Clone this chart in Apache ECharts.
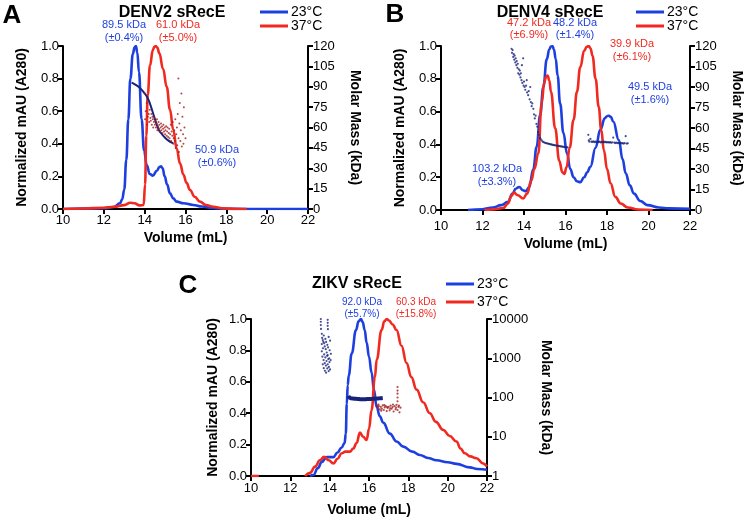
<!DOCTYPE html>
<html><head><meta charset="utf-8">
<script src="https://cdn.jsdelivr.net/npm/echarts@6/dist/echarts.min.js"></script>
<style>html,body{margin:0;padding:0;background:#fff}#c{width:745px;height:520px}</style>
</head><body><div id="c"></div><script>
// ---------- DATA ----------
const volumeTicks = [10, 12, 14, 16, 18, 20, 22];
const legendNames = ['23°C', '37°C'];

// Panel A: DENV2 sRecE  [volume mL, normalized A280]
const denv2_23 = [[10,0],[11,0.002],[12,0.005],[12.5,0.012],[12.79,0.035],[12.9,0.06],[13.0,0.12],[13.1,0.3],[13.2,0.55],[13.3,0.8],[13.42,0.95],[13.5,0.99],[13.57,1.0],[13.64,0.96],[13.72,0.84],[13.85,0.55],[13.97,0.36],[14.1,0.27],[14.25,0.215],[14.4,0.205],[14.6,0.235],[14.72,0.258],[14.8,0.262],[14.88,0.25],[14.98,0.2],[15.1,0.15],[15.24,0.096],[15.4,0.065],[15.57,0.045],[15.9,0.035],[16.38,0.025],[16.8,0.015],[17.3,0.006],[18,0.001],[19,0],[22,0]];
const denv2_37 = [[10,0],[11,0.003],[12,0.008],[12.5,0.014],[13.0,0.024],[13.3,0.038],[13.5,0.035],[13.75,0.022],[13.95,0.025],[14.02,0.15],[14.08,0.45],[14.15,0.7],[14.26,0.88],[14.4,0.975],[14.47,0.995],[14.54,1.0],[14.62,0.99],[14.72,0.955],[14.9,0.86],[15.08,0.75],[15.24,0.61],[15.4,0.485],[15.57,0.37],[15.73,0.28],[15.9,0.21],[16.05,0.16],[16.22,0.117],[16.45,0.075],[16.7,0.045],[17.0,0.025],[17.36,0.014],[17.8,0.005],[18.5,0],[19,0]];
// molar mass (kDa)
const denv2_mm23 = [[13.36,93],[13.5,92],[13.7,90],[13.9,87],[14.1,83],[14.25,78],[14.4,71],[14.55,64],[14.7,58],[14.85,55],[15.0,52.5],[15.15,50.5],[15.3,49],[15.4,48.5]];
const denv2_mm37 = [[14.0,85],[14.02,66],[14.05,72],[14.1,78],[14.12,62],[14.15,68],[14.2,70],[14.22,64],[14.25,73],[14.28,67],[14.3,65],[14.33,70],[14.35,62],[14.38,68],[14.4,66],[14.42,60],[14.45,64],[14.48,67],[14.5,62],[14.52,65],[14.55,60],[14.58,63],[14.6,66],[14.62,58],[14.65,61],[14.68,64],[14.7,59],[14.72,62],[14.75,57],[14.78,60],[14.8,63],[14.82,58],[14.85,61],[14.88,56],[14.9,59],[14.92,62],[14.95,57],[14.98,60],[15.0,55],[15.02,58],[15.05,61],[15.08,54],[15.1,57],[15.12,60],[15.15,53],[15.18,56],[15.2,59],[15.22,52],[15.25,55],[15.28,62],[15.3,50],[15.32,57],[15.35,54],[15.38,64],[15.4,48],[15.42,52],[15.45,58],[15.48,50],[15.5,66],[15.52,45],[15.55,55],[15.58,60],[15.6,47],[15.62,70],[15.65,96],[15.66,52],[15.68,42],[15.7,63],[15.72,78],[15.75,50],[15.77,58],[15.8,85],[15.82,46],[15.85,68],[15.88,55],[15.9,48],[15.92,75],[15.95,60],[16.0,52]];

// Panel B: DENV4 sRecE
const denv4_23 = [[11.3,0],[12.0,0.005],[12.5,0.015],[12.9,0.03],[13.23,0.05],[13.45,0.1],[13.6,0.13],[13.77,0.14],[13.95,0.12],[14.09,0.115],[14.25,0.14],[14.45,0.25],[14.61,0.386],[14.78,0.58],[14.93,0.75],[15.1,0.92],[15.22,0.98],[15.3,0.997],[15.37,1.0],[15.44,0.98],[15.53,0.92],[15.62,0.82],[15.74,0.65],[15.9,0.47],[16.07,0.345],[16.23,0.25],[16.39,0.2],[16.55,0.175],[16.71,0.17],[16.9,0.2],[17.05,0.23],[17.2,0.264],[17.45,0.38],[17.68,0.49],[17.9,0.56],[18.0,0.572],[18.09,0.575],[18.18,0.568],[18.3,0.54],[18.57,0.427],[18.75,0.31],[18.9,0.224],[19.1,0.15],[19.3,0.1],[19.6,0.055],[19.95,0.03],[20.5,0.015],[21.0,0.01],[22,0.008]];
const denv4_37 = [[12.1,0],[12.5,0.003],[13.0,0.012],[13.23,0.04],[13.38,0.085],[13.52,0.106],[13.7,0.09],[13.96,0.07],[14.15,0.1],[14.35,0.18],[14.5,0.25],[14.69,0.345],[14.85,0.65],[14.98,0.78],[15.06,0.81],[15.14,0.82],[15.22,0.79],[15.3,0.72],[15.5,0.5],[15.7,0.3],[15.85,0.23],[15.94,0.22],[16.05,0.26],[16.2,0.38],[16.39,0.55],[16.55,0.72],[16.71,0.87],[16.9,0.97],[17.02,0.995],[17.12,1.0],[17.21,0.985],[17.3,0.94],[17.45,0.8],[17.6,0.63],[17.72,0.49],[17.85,0.366],[18.0,0.25],[18.17,0.163],[18.4,0.08],[18.66,0.04],[19.0,0.015],[19.5,0.003],[20.2,0]];
const denv4_mm23 = [[13.4,118],[13.42,115],[13.45,117],[13.48,112],[13.5,114],[13.53,110],[13.55,113],[13.58,108],[13.6,111],[13.63,106],[13.65,109],[13.68,104],[13.7,107],[13.72,100],[13.75,103],[13.78,99],[13.8,102],[13.83,97],[13.85,100],[13.88,95],[13.9,106],[13.92,93],[13.96,111],[13.98,91],[14.0,94],[14.03,90],[14.06,88],[14.1,91],[14.13,95],[14.15,86],[14.2,84],[14.23,87],[14.27,81],[14.3,90],[14.33,79],[14.37,76],[14.4,78],[14.45,74],[14.48,70],[14.52,67],[14.56,69],[14.6,63],[14.64,61],[14.68,57],[14.72,55],[14.76,53],[14.8,52],[14.85,51],[14.9,50],[14.95,49.6],[15.0,49.2],[15.05,49],[15.1,48.8],[15.15,48.6],[15.2,48.4],[15.25,48.2],[15.3,48],[15.35,47.8],[15.4,47.6],[15.45,47.4],[15.5,47.3],[15.55,47.2],[15.6,47],[15.65,46.9],[15.7,46.8],[15.75,46.6],[15.8,46.5],[15.85,46.3],[15.9,46.2],[15.95,46.1],[16.0,46],[16.05,45.9],[16.1,45.8]];
const denv4_mm23b = [[17.1,55],[17.12,51],[17.15,50],[17.2,52],[17.25,50],[17.3,49.8],[17.35,50.2],[17.4,49.6],[17.45,50],[17.5,49.5],[17.55,50.1],[17.6,49.7],[17.65,50],[17.7,49.4],[17.75,49.9],[17.8,49.6],[17.85,50],[17.9,49.5],[17.95,49.8],[18.0,49.4],[18.05,49.7],[18.1,49.3],[18.15,49.6],[18.2,49.2],[18.25,49.5],[18.3,53],[18.35,49.3],[18.4,49],[18.45,49.4],[18.5,48.9],[18.55,49.2],[18.6,48.8],[18.65,49.1],[18.7,48.7],[18.75,49],[18.8,48.6],[18.85,48.9],[18.9,54],[18.95,48.6],[19.0,48.8]];

// Panel C: ZIKV sRecE
const zikv_23 = [[13.0,0],[13.17,0.006],[13.4,0.05],[13.6,0.09],[13.85,0.12],[14.0,0.12],[14.19,0.12],[14.4,0.15],[14.6,0.18],[14.76,0.21],[14.82,0.27],[14.87,0.46],[14.92,0.58],[14.97,0.64],[15.12,0.78],[15.34,0.93],[15.47,0.985],[15.59,1.0],[15.68,0.98],[15.78,0.93],[15.88,0.85],[16.0,0.76],[16.13,0.66],[16.25,0.55],[16.39,0.44],[16.55,0.38],[16.72,0.34],[17.06,0.27],[17.4,0.22],[17.74,0.187],[18.2,0.155],[18.58,0.134],[19.0,0.115],[19.43,0.1],[20.0,0.088],[20.45,0.077],[21.12,0.055],[21.5,0.045],[22,0.04]];
const zikv_37 = [[10,0],[10.4,0],[10.5,'-'],[12.75,0],[13.0,0.02],[13.26,0.06],[13.5,0.1],[13.72,0.123],[13.95,0.1],[14.19,0.08],[14.4,0.11],[14.61,0.145],[14.8,0.155],[15.03,0.155],[15.2,0.175],[15.37,0.21],[15.54,0.276],[15.7,0.25],[15.88,0.23],[16.0,0.3],[16.13,0.42],[16.3,0.63],[16.39,0.74],[16.64,0.93],[16.78,0.985],[16.9,1.0],[17.02,0.99],[17.2,0.965],[17.4,0.93],[17.65,0.83],[17.91,0.72],[18.15,0.63],[18.42,0.55],[18.75,0.47],[19.09,0.4],[19.4,0.345],[19.77,0.294],[20.1,0.255],[20.45,0.22],[20.65,0.175],[20.87,0.145],[21.15,0.125],[21.46,0.113],[21.8,0.08],[22,0.06]];
const zikv_mm23 = [[14.95,110],[15.0,100],[15.05,97],[15.1,95],[15.2,94],[15.3,93],[15.4,92],[15.5,91],[15.6,90],[15.7,90],[15.8,90.5],[15.9,91],[16.0,91.5],[16.1,92],[16.2,92.5],[16.3,93],[16.4,94],[16.5,95],[16.6,96],[16.7,97]];
const zikv_mm23agg = [[13.55,10000],[13.55,8500],[13.55,7000],[13.56,5600],[13.9,9500],[13.9,8000],[13.9,6700],[13.91,5500],[13.6,4200],[13.62,3300],[13.65,2900],[13.7,3800],[13.72,2400],[13.75,2000],[13.78,3100],[13.8,1700],[13.82,2600],[13.85,1400],[13.88,2200],[13.9,1200],[13.92,1900],[13.95,3500],[13.98,1000],[14.0,1600],[14.02,2800],[14.05,900],[14.06,1300],[13.6,1500],[13.63,1100],[13.66,1800],[13.69,900],[13.72,1250],[13.75,750],[13.78,1050],[13.81,650],[13.84,850],[13.87,1150],[13.9,700],[13.93,950],[13.96,600],[13.99,800],[14.02,520],[13.65,700],[13.7,560],[13.76,480],[13.82,430],[13.88,550],[13.95,470],[13.6,2300],[13.68,2600]];
const zikv_mm37 = [[16.4,62],[16.45,55],[16.5,60],[16.55,50],[16.6,58],[16.65,52],[16.7,63],[16.75,48],[16.8,56],[16.85,60],[16.9,45],[16.95,54],[17.0,58],[17.05,47],[17.1,62],[17.15,52],[17.2,57],[17.25,44],[17.3,60],[17.35,50],[17.4,65],[17.45,48],[17.5,58],[17.55,42],[17.6,55],[16.48,66],[16.62,46],[16.78,64],[16.92,57],[17.08,53],[17.22,66],[17.38,55],[17.52,62],[17.45,80],[17.45,100],[17.45,125],[17.45,150],[17.45,185]];

// ---------- CHART ----------
const FONT = 'Arial, "Liberation Sans", Helvetica, sans-serif';
const BLUE = '#1d3fe0', RED = '#f02a20', NAVY = '#17237a', DRED = '#a01c1c';
const chart = echarts.init(document.getElementById('c'), null, {renderer: 'canvas'});

const grids = [
  {left: 63, right: 437, top: 46, bottom: 311},
  {left: 441, right: 55, top: 46, bottom: 310},
  {left: 251, right: 258, top: 319, bottom: 44}
];
const axLine = {show: true, onZero: false, lineStyle: {color: '#000', width: 2}};
const axTick = {show: true, length: 5, inside: false, lineStyle: {color: '#000', width: 2}};
function xAx(g, margin, gap) {
  return {type: 'value', gridIndex: g, min: 10, max: 22, interval: 2,
    axisLine: axLine, axisTick: axTick, splitLine: {show: false},
    axisLabel: {color: '#000', fontSize: 13, fontFamily: FONT, margin: margin},
    name: 'Volume (mL)', nameLocation: 'middle', nameGap: gap,
    nameTextStyle: {color: '#000', fontSize: 14, fontWeight: 'bold', fontFamily: FONT}};
}
function yLeft(g, gap) {
  return {type: 'value', gridIndex: g, min: 0, max: 1, interval: 0.2, position: 'left',
    axisLine: axLine, axisTick: axTick, splitLine: {show: false},
    axisLabel: {color: '#000', fontSize: 13, fontFamily: FONT, margin: 4, formatter: v => v.toFixed(1)},
    name: 'Normalized mAU (A280)', nameLocation: 'middle', nameGap: gap, nameRotate: 90,
    nameTextStyle: {color: '#000', fontSize: 14, fontWeight: 'bold', fontFamily: FONT}};
}
function yRight(g, gap) {
  return {type: 'value', gridIndex: g, min: 0, max: 120, interval: 15, position: 'right',
    axisLine: axLine, axisTick: axTick, splitLine: {show: false},
    axisLabel: {color: '#000', fontSize: 13, fontFamily: FONT, margin: 5},
    name: 'Molar Mass (kDa)', nameLocation: 'middle', nameGap: gap, nameRotate: -90,
    nameTextStyle: {color: '#000', fontSize: 14, fontWeight: 'bold', fontFamily: FONT}};
}
const yRightLog = {type: 'log', logBase: 10, gridIndex: 2, min: 1, max: 10000, position: 'right',
  axisLine: axLine, axisTick: axTick, splitLine: {show: false}, minorTick: {show: false},
  axisLabel: {color: '#000', fontSize: 13, fontFamily: FONT, margin: 5, formatter: v => String(Math.round(v))},
  name: 'Molar Mass (kDa)', nameLocation: 'middle', nameGap: 52, nameRotate: -90,
  nameTextStyle: {color: '#000', fontSize: 14, fontWeight: 'bold', fontFamily: FONT}};

function line(name, data, color, xi, yi) {
  return {type: 'line', name: name, data: data, xAxisIndex: xi, yAxisIndex: yi,
    showSymbol: false, smooth: 0.45, smoothMonotone: 'x', connectNulls: false,
    lineStyle: {color: color, width: 2.6}, itemStyle: {color: color}, z: 2};
}
function dots(data, color, xi, yi, size) {
  return {type: 'scatter', name: 'mm', data: data, xAxisIndex: xi, yAxisIndex: yi,
    symbolSize: size || 2.2, itemStyle: {color: color}, z: 4, silent: true};
}
function mmLine(data, color, xi, yi, w) {
  return {type: 'line', name: 'mmline', data: data, xAxisIndex: xi, yAxisIndex: yi,
    showSymbol: false, smooth: 0.4, lineStyle: {color: color, width: w}, z: 4, silent: true};
}
function legend(left, top, gap, fs) {
  return {orient: 'vertical', left: left, top: top, itemWidth: 28, itemHeight: 3, itemGap: gap,
    icon: 'rect', selectedMode: false, data: legendNames, padding: 0,
    textStyle: {color: '#000', fontSize: fs, fontFamily: FONT, lineHeight: 12, padding: [0, 0, 0, -2]}};
}
function txt(x, y, s, color, fs, bold) {
  return {type: 'text', x: x, y: y, style: {text: s, fill: color, font: (bold ? 'bold ' : '') + fs + 'px ' + FONT,
    textAlign: 'center', textVerticalAlign: 'middle'}};
}
const titleStyle = {fontSize: 16, fontWeight: 'bold', fontFamily: FONT, color: '#000'};

const option = {
  animation: false,
  backgroundColor: '#fff',
  grid: grids,
  title: [
    {text: 'DENV2 sRecE', left: 172, top: 5, padding: 0, textAlign: 'center', textStyle: titleStyle},
    {text: 'DENV4 sRecE', left: 550, top: 5, padding: 0, textAlign: 'center', textStyle: titleStyle},
    {text: 'ZIKV sRecE', left: 357, top: 276, padding: 0, textAlign: 'center', textStyle: titleStyle}
  ],
  legend: [legend(260, 5, 0, 14), legend(636, 5, 0, 14), legend(446, 277, 4, 14)],
  xAxis: [xAx(0, 5, 22), xAx(1, 10, 27), xAx(2, 6, 27)],
  yAxis: [yLeft(0, 34), yRight(0, 40), yLeft(1, 34), yRight(1, 40), yLeft(2, 31), yRightLog],
  series: [
    line('23°C', denv2_23, BLUE, 0, 0),
    line('37°C', denv2_37, RED, 0, 0),
    mmLine(denv2_mm23, NAVY, 0, 1, 2),
    dots(denv2_mm37, DRED, 0, 1, 2),
    line('23°C', denv4_23, BLUE, 1, 2),
    line('37°C', denv4_37, RED, 1, 2),
    dots(denv4_mm23, NAVY, 1, 3, 2.2),
    dots(denv4_mm23b, NAVY, 1, 3, 2.2),
    line('23°C', zikv_23, BLUE, 2, 4),
    line('37°C', zikv_37, RED, 2, 4),
    mmLine(zikv_mm23, NAVY, 2, 5, 4),
    dots(zikv_mm23agg, NAVY, 2, 5, 2.2),
    dots(zikv_mm37, DRED, 2, 5, 2.2)
  ],
  graphic: [
    txt(12, 16, 'A', '#000', 26, true),
    txt(395, 15, 'B', '#000', 26, true),
    txt(188, 286, 'C', '#000', 26, true),
    txt(124, 25, '89.5 kDa', BLUE, 11), txt(124, 38, '(±0.4%)', BLUE, 11),
    txt(178, 25, '61.0 kDa', RED, 11), txt(178, 38, '(±5.0%)', RED, 11),
    txt(217, 150, '50.9 kDa', BLUE, 11), txt(217, 163, '(±0.6%)', BLUE, 11),
    txt(529, 23, '47.2 kDa', RED, 11), txt(529, 35, '(±6.9%)', RED, 11),
    txt(575, 23, '48.2 kDa', BLUE, 11), txt(575, 35, '(±1.4%)', BLUE, 11),
    txt(632, 44, '39.9 kDa', RED, 11), txt(632, 57, '(±6.1%)', RED, 11),
    txt(650, 87, '49.5 kDa', BLUE, 11), txt(650, 100, '(±1.6%)', BLUE, 11),
    txt(497, 169, '103.2 kDa', BLUE, 11), txt(497, 182, '(±3.3%)', BLUE, 11),
    txt(362, 302, '92.0 kDa', BLUE, 10), txt(362, 314, '(±5.7%)', BLUE, 10),
    txt(416, 302, '60.3 kDa', RED, 10), txt(416, 314, '(±15.8%)', RED, 10)
  ]
};
chart.setOption(option);
</script></body></html>
